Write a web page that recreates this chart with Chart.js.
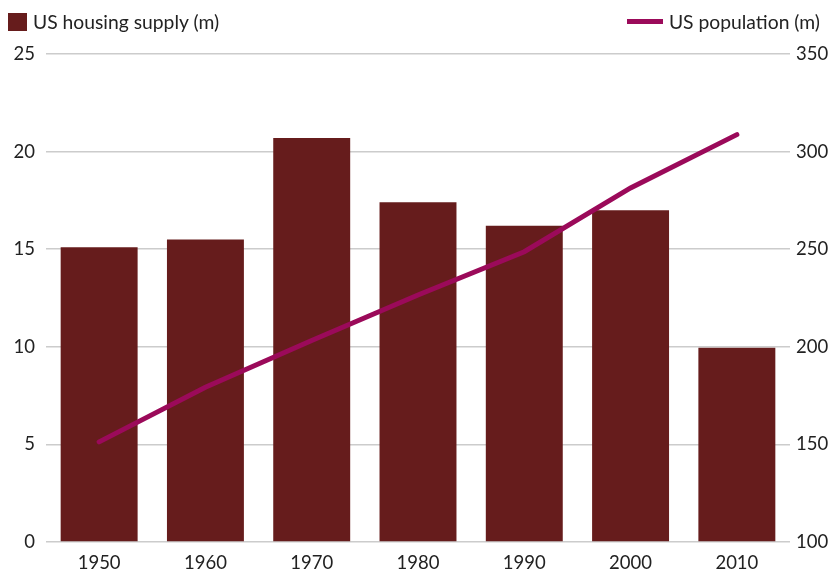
<!DOCTYPE html>
<html><head><meta charset="utf-8">
<script src="https://cdn.jsdelivr.net/npm/chart.js@4/dist/chart.umd.min.js"></script>
<style>
html,body{margin:0;padding:0;background:#fff;}
#wrap{position:relative;width:829px;height:572px;}
canvas{position:absolute;left:0;top:0;}
.leg{position:absolute;top:10px;font-family:Lato,"Open Sans",sans-serif;font-size:19.3px;color:#222;display:flex;align-items:center;white-space:nowrap;}
.box{width:19px;height:18px;background:#661c1c;margin-right:6px;}
.ln{width:36px;height:5px;background:#9b0a5a;margin-right:6px;}
</style></head>
<body><div id="wrap"><canvas id="c" width="829" height="572"></canvas>
<div class="leg" style="left:8px"><span class="box"></span><span id="l1"></span></div>
<div class="leg" style="right:9px"><span class="ln"></span><span id="l2"></span></div>
</div>
<script>
const categories = ["1950","1960","1970","1980","1990","2000","2010"];
const housingSupply = [15.1, 15.5, 20.7, 17.4, 16.2, 17.0, 9.95];
const population = [151.3, 179.3, 203.2, 226.5, 248.7, 281.4, 308.7];
const housingLabel = "US housing supply (m)";
const populationLabel = "US population (m)";
document.getElementById('l1').textContent = housingLabel;
document.getElementById('l2').textContent = populationLabel;
const font = {family: 'Lato, "Open Sans", sans-serif', size: 18.5};
new Chart(document.getElementById('c'), {
  data: {
    labels: categories,
    datasets: [
      {type:'line', label: populationLabel, data: population, yAxisID:'y2', borderColor:'#9b0a5a', borderWidth:5, pointRadius:0, tension:0, borderCapStyle:'round', order:0},
      {type:'bar', label: housingLabel, data: housingSupply, yAxisID:'y', backgroundColor:'#661c1c', barPercentage:0.8, categoryPercentage:0.905, order:1}
    ]
  },
  options: {
    responsive:false, animation:false,
    layout:{padding:{top:54,left:0,right:0,bottom:0}},
    plugins:{legend:{display:false}, tooltip:{enabled:false}},
    scales:{
      x:{grid:{display:false}, border:{display:false}, ticks:{color:'#222', font, padding:2},
         afterFit(s){s.height=30;}},
      y:{position:'left', min:0, max:25, ticks:{stepSize:5, color:'#222', font, padding:11},
         grid:{color:'#cccccc', lineWidth:1.5, drawTicks:false}, border:{display:false},
         afterFit(s){s.width=46;}},
      y2:{position:'right', min:100, max:350, ticks:{stepSize:50, color:'#222', font, padding:6},
         grid:{display:false, drawTicks:false}, border:{display:false},
         afterFit(s){s.width=39;}}
    }
  }
});
</script></body></html>
